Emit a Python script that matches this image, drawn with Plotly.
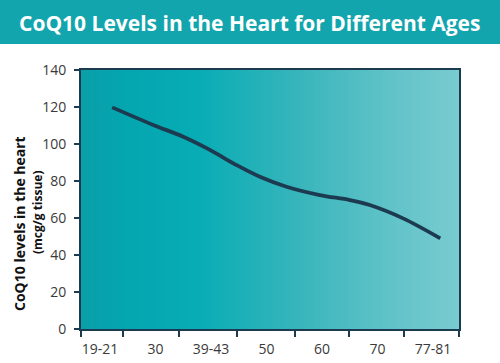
import plotly.graph_objects as go

# ---- data ----
age_groups = ["19-21", "30", "39-43", "50", "60", "70", "77-81"]
age_index = list(range(len(age_groups)))
# positions along the age axis (in category units) where the curve was read
curve_pos = [0.22, 0.96, 1.50, 1.98, 2.46, 2.88, 3.36, 3.96, 4.50, 4.86, 5.46, 6.13]
coq10_levels = [119.8, 110.3, 103.9, 96.8, 88.6, 82.3, 76.9, 72.4, 69.7, 67.0, 59.8, 49.0]
boundary_ticks = [-0.342, 0.414, 1.423, 2.468, 3.514, 4.486, 5.477, 6.468]
y_ticks = [0, 20, 40, 60, 80, 100, 120, 140]

title = "CoQ10 Levels in the Heart for Different Ages"
y_title = "CoQ10 levels in the heart"
y_subtitle = "(mcg/g tissue)"

x_range = [boundary_ticks[0], boundary_ticks[-1]]
y_range = [0, 140]

# plot-area geometry in pixels (for placing the banner / side titles)
L, R, T, B = 81, 459, 70, 329
PW, PH = R - L, B - T

def px_x(px):
    return (px - L) / PW

def px_y(py):
    return (B - py) / PH

# ---- background gradient (heatmap) ----
n = 60
gx = [x_range[0] + (x_range[1] - x_range[0]) * i / (n - 1) for i in range(n)]
gz = [i / (n - 1) for i in range(n)]

fig = go.Figure()
fig.add_trace(go.Heatmap(
    x=gx, y=y_range, z=[gz, gz], zsmooth="best", showscale=False, hoverinfo="skip",
    colorscale=[[0, "#0a9fa9"], [0.12, "#04a6b0"], [0.3, "#07acb5"], [0.55, "#33b4ba"],
                [0.8, "#5ec2c7"], [1, "#79cbd0"]],
))
fig.add_trace(go.Scatter(
    x=curve_pos, y=coq10_levels, mode="lines", line=dict(color="#1c3b51", width=3.8, shape="spline"),
    showlegend=False,
))

tick_font = dict(family="Open Sans, sans-serif", size=14, color="#3a3a3a")

fig.update_layout(
    width=500, height=363,
    margin=dict(l=L, r=500 - R, t=T, b=363 - B),
    paper_bgcolor="white", plot_bgcolor="white",
    showlegend=False,
    xaxis=dict(range=x_range, tickmode="array", tickvals=age_index, ticktext=age_groups,
               ticks="", showgrid=False, zeroline=False, showline=True, linecolor="#1c3b51",
               linewidth=2, mirror=True, tickfont=tick_font, ticklabelstandoff=6,
               automargin=False,
               minor=dict(tickmode="array", tickvals=boundary_ticks, ticks="outside",
                          ticklen=6, tickwidth=2, tickcolor="#1c3b51", showgrid=False)),
    yaxis=dict(range=y_range, tickmode="array", tickvals=y_ticks, ticks="outside",
               ticklen=5, tickwidth=1.5, tickcolor="#1c3b51", showgrid=False, zeroline=False,
               showline=True, linecolor="#1c3b51", linewidth=2, mirror=True, tickfont=tick_font,
               ticklabelstandoff=5, automargin=False),
    shapes=[dict(type="rect", xref="paper", yref="paper", x0=px_x(0) - 0.01, x1=px_x(500) + 0.01,
                 y0=px_y(44), y1=px_y(-5), fillcolor="#12a5ad",
                 line=dict(width=0), layer="below")],
    annotations=[
        dict(text="<b>" + title + "</b>", xref="paper", yref="paper", x=px_x(249), y=px_y(23),
             showarrow=False, xanchor="center", yanchor="middle",
             font=dict(family="Open Sans, sans-serif", size=21, color="white")),
        dict(text="<b>" + y_title + "</b>", xref="paper", yref="paper", x=px_x(20),
             y=px_y(224), textangle=-90, showarrow=False, xanchor="center", yanchor="middle",
             font=dict(family="Open Sans, sans-serif", size=14, color="#111111")),
        dict(text="<b>" + y_subtitle + "</b>", xref="paper", yref="paper", x=px_x(37),
             y=px_y(212), textangle=-90, showarrow=False, xanchor="center", yanchor="middle",
             font=dict(family="Open Sans, sans-serif", size=12, color="#111111")),
    ],
)

fig.write_html("out.html", config={"displayModeBar": False},
               post_script="document.body.style.margin='0';")
